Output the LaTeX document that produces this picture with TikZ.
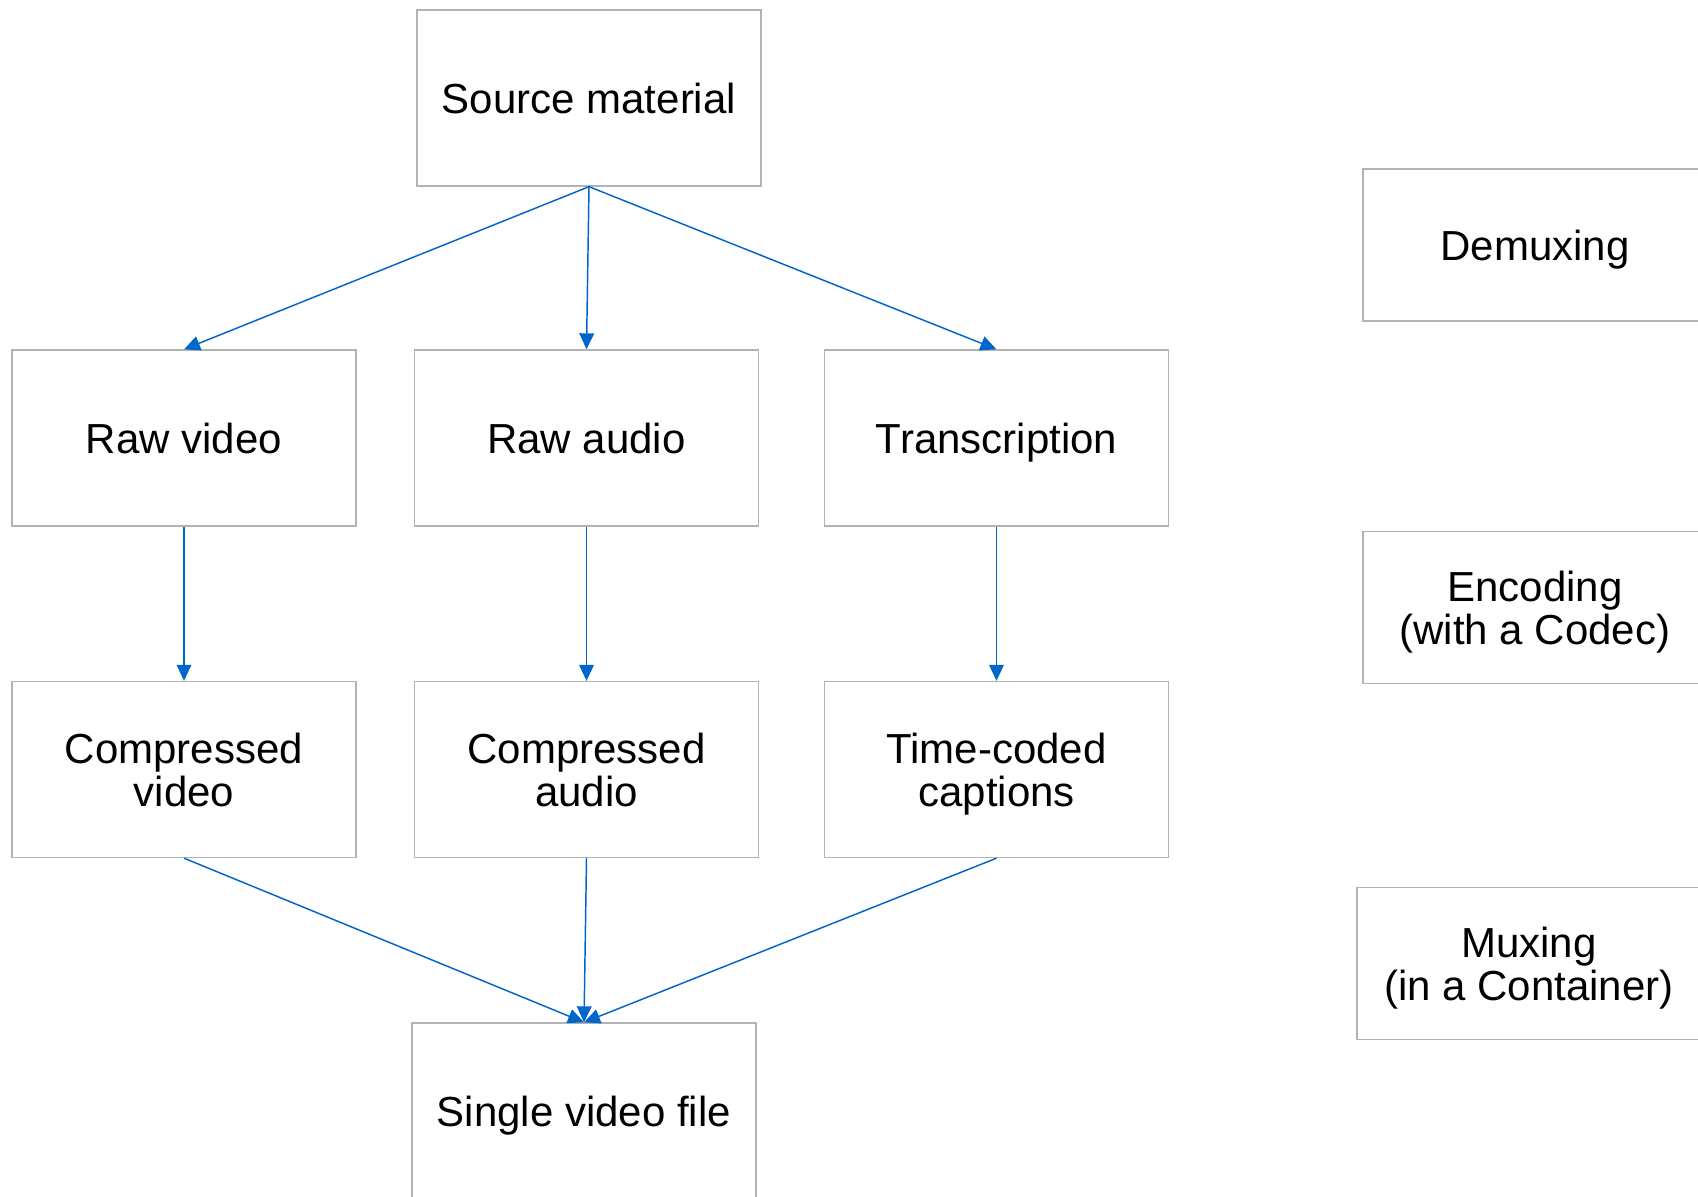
\documentclass[tikz,border=0pt]{standalone}
\usepackage{fontspec}
\setmainfont{Liberation Sans}
\usetikzlibrary{arrows.meta}
\definecolor{boxgray}{HTML}{B3B3B3}
\definecolor{arrblue}{HTML}{0066CC}
\tikzset{
  stagebox/.style={draw=boxgray, line width=1pt, minimum width=258pt, minimum height=132pt,
    inner sep=0pt, align=center, text depth=0pt, font=\fontsize{31.5}{32.5}\selectfont, text=black},
  sidebox/.style={stagebox, minimum height=114pt},
  flow/.style={draw=arrblue, line width=1.1pt, -{Triangle[length=12pt,width=11pt]}}
}
\begin{document}
\begin{tikzpicture}[x=0.75pt, y=-0.75pt]
\clip (0,0) rectangle (1698,1196);
\fill[white] (0,0) rectangle (1698,1196);
\node[stagebox] (src) at (589,98) {Source material};
\node[stagebox] (rv) at (184,438) {Raw video};
\node[stagebox] (ra) at (586.5,438) {Raw audio};
\node[stagebox] (tr) at (996.5,438) {Transcription};
\node[stagebox] (cv) at (184,769.5) {Compressed\\video};
\node[stagebox] (ca) at (586.5,769.5) {Compressed\\audio};
\node[stagebox] (tc) at (996.5,769.5) {Time-coded\\captions};
\node[stagebox] (svf) at (584,1111) {Single video file};
\node[sidebox] (demux) at (1535,245) {Demuxing};
\node[sidebox] (enc) at (1535,607.5) {Encoding\\(with a Codec)};
\node[sidebox] (mux) at (1529,963.5) {Muxing\\(in a Container)};
\draw[flow] (src.south) -- (rv.north);
\draw[flow] (src.south) -- (ra.north);
\draw[flow] (src.south) -- (tr.north);
\draw[flow] (rv.south) -- (cv.north);
\draw[flow] (ra.south) -- (ca.north);
\draw[flow] (tr.south) -- (tc.north);
\draw[flow] (cv.south) -- (svf.north);
\draw[flow] (ca.south) -- (svf.north);
\draw[flow] (tc.south) -- (svf.north);
\end{tikzpicture}
\end{document}
